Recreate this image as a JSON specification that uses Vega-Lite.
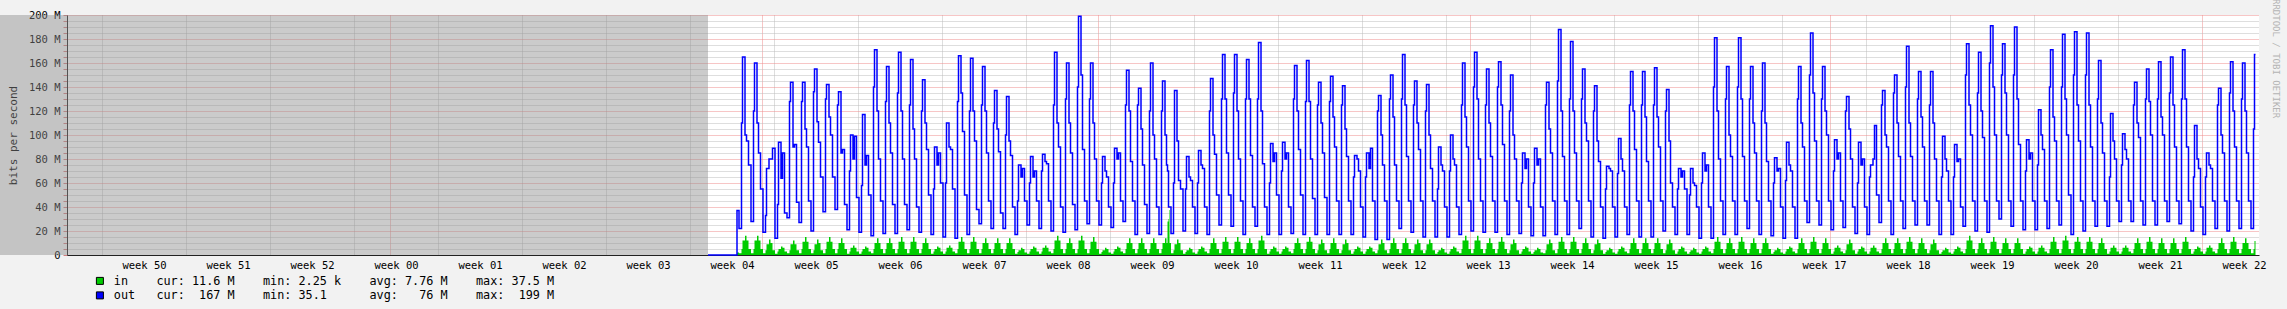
{
"$schema":"https://vega.github.io/schema/vega-lite/v6.json",
"width":2192,"height":240,"autosize":"none",
"padding":{"left":67,"top":15,"right":28,"bottom":54},
"background":"#f2f2f2",
"config":{"view":{"fill":"#ffffff","stroke":null},"font":"DejaVu Sans Mono"},
"title":{"text":"RRDTOOL / TOBI OETIKER","orient":"right","anchor":"start","fontSize":9,"font":"DejaVu Sans Mono","fontWeight":"normal","color":"#b4b4b4","offset":5,"dx":-11},
"data":{"name":"traffic","format":{"parse":{"t":"utc:'%y%m%d%H'"}}},
"datasets":{
"unk":[{"t":"14120502","t2":"15012712"}],
"traffic":[
{"t":"15012712","o":0,"i":0},{"t":"15012922","o":37,"i":2},
{"t":"15013002","o":22,"i":1.5},{"t":"15013007","o":110,"i":5},{"t":"15013009","o":165,"i":12},{"t":"15013014","o":100,"i":16},{"t":"15013017","o":95,"i":12},{"t":"15013021","o":75,"i":5},
{"t":"15013102","o":28,"i":1.5},{"t":"15013107","o":120,"i":5},{"t":"15013109","o":160,"i":12},{"t":"15013114","o":110,"i":16},{"t":"15013117","o":85,"i":12},{"t":"15013121","o":55,"i":5},
{"t":"15020102","o":19,"i":1.5},{"t":"15020107","o":33,"i":4},{"t":"15020109","o":72,"i":9},{"t":"15020114","o":80,"i":13},{"t":"15020117","o":80,"i":10},{"t":"15020121","o":89,"i":4},
{"t":"15020202","o":14,"i":1},{"t":"15020207","o":42,"i":3},{"t":"15020209","o":94,"i":5},{"t":"15020214","o":64,"i":7},{"t":"15020217","o":85,"i":6},{"t":"15020221","o":35,"i":3},
{"t":"15020302","o":31,"i":1.5},{"t":"15020307","o":128,"i":4},{"t":"15020309","o":144,"i":9},{"t":"15020314","o":90,"i":12},{"t":"15020317","o":92,"i":9},{"t":"15020321","o":44,"i":4},
{"t":"15020402","o":27,"i":1.5},{"t":"15020407","o":128,"i":5},{"t":"15020409","o":144,"i":11},{"t":"15020414","o":105,"i":15},{"t":"15020417","o":90,"i":11},{"t":"15020421","o":45,"i":5},
{"t":"15020502","o":20,"i":1.5},{"t":"15020507","o":136,"i":4},{"t":"15020509","o":155,"i":9},{"t":"15020514","o":111,"i":13},{"t":"15020517","o":94,"i":10},{"t":"15020521","o":65,"i":4},
{"t":"15020602","o":36,"i":1.5},{"t":"15020607","o":130,"i":5},{"t":"15020609","o":142,"i":11},{"t":"15020614","o":115,"i":15},{"t":"15020617","o":100,"i":11},{"t":"15020621","o":65,"i":5},
{"t":"15020702","o":38,"i":1.5},{"t":"15020707","o":125,"i":5},{"t":"15020709","o":136,"i":10},{"t":"15020714","o":85,"i":14},{"t":"15020717","o":88,"i":10},{"t":"15020721","o":42,"i":5},
{"t":"15020802","o":21,"i":1},{"t":"15020807","o":70,"i":3},{"t":"15020809","o":100,"i":6},{"t":"15020814","o":80,"i":8},{"t":"15020817","o":99,"i":6},{"t":"15020821","o":48,"i":3},
{"t":"15020902","o":19,"i":1},{"t":"15020907","o":58,"i":3},{"t":"15020909","o":117,"i":5},{"t":"15020914","o":75,"i":7},{"t":"15020917","o":83,"i":6},{"t":"15020921","o":50,"i":3},
{"t":"15021002","o":16,"i":1.5},{"t":"15021007","o":140,"i":5},{"t":"15021009","o":171,"i":10},{"t":"15021014","o":120,"i":14},{"t":"15021017","o":80,"i":10},{"t":"15021021","o":45,"i":5},
{"t":"15021102","o":18,"i":1.5},{"t":"15021107","o":128,"i":5},{"t":"15021109","o":157,"i":10},{"t":"15021114","o":110,"i":14},{"t":"15021117","o":85,"i":10},{"t":"15021121","o":42,"i":5},
{"t":"15021202","o":18,"i":1.5},{"t":"15021207","o":135,"i":5},{"t":"15021209","o":169,"i":11},{"t":"15021214","o":120,"i":15},{"t":"15021217","o":80,"i":11},{"t":"15021221","o":42,"i":5},
{"t":"15021302","o":21,"i":1.5},{"t":"15021307","o":125,"i":5},{"t":"15021309","o":163,"i":11},{"t":"15021314","o":105,"i":15},{"t":"15021317","o":80,"i":11},{"t":"15021321","o":40,"i":5},
{"t":"15021402","o":19,"i":1.5},{"t":"15021407","o":120,"i":5},{"t":"15021409","o":146,"i":10},{"t":"15021414","o":110,"i":14},{"t":"15021417","o":88,"i":10},{"t":"15021421","o":50,"i":5},
{"t":"15021502","o":17,"i":1},{"t":"15021507","o":55,"i":3},{"t":"15021509","o":90,"i":5},{"t":"15021514","o":75,"i":7},{"t":"15021517","o":85,"i":6},{"t":"15021521","o":60,"i":3},
{"t":"15021602","o":15,"i":1},{"t":"15021607","o":60,"i":3},{"t":"15021609","o":110,"i":6},{"t":"15021614","o":90,"i":8},{"t":"15021617","o":88,"i":6},{"t":"15021621","o":55,"i":3},
{"t":"15021702","o":14,"i":1.5},{"t":"15021707","o":128,"i":5},{"t":"15021709","o":166,"i":11},{"t":"15021714","o":135,"i":15},{"t":"15021717","o":103,"i":11},{"t":"15021721","o":50,"i":5},
{"t":"15021802","o":17,"i":1.5},{"t":"15021807","o":120,"i":5},{"t":"15021809","o":164,"i":11},{"t":"15021814","o":120,"i":15},{"t":"15021817","o":95,"i":11},{"t":"15021821","o":38,"i":5},
{"t":"15021902","o":26,"i":1.5},{"t":"15021907","o":125,"i":5},{"t":"15021909","o":157,"i":10},{"t":"15021914","o":120,"i":14},{"t":"15021917","o":85,"i":10},{"t":"15021921","o":45,"i":5},
{"t":"15022002","o":22,"i":1.5},{"t":"15022007","o":110,"i":5},{"t":"15022009","o":137,"i":10},{"t":"15022014","o":105,"i":14},{"t":"15022017","o":86,"i":10},{"t":"15022021","o":35,"i":5},
{"t":"15022102","o":22,"i":1.5},{"t":"15022107","o":100,"i":5},{"t":"15022109","o":132,"i":10},{"t":"15022114","o":95,"i":14},{"t":"15022117","o":83,"i":10},{"t":"15022121","o":40,"i":5},
{"t":"15022202","o":17,"i":1},{"t":"15022207","o":45,"i":2.5},{"t":"15022209","o":75,"i":4},{"t":"15022214","o":65,"i":6},{"t":"15022217","o":72,"i":5},{"t":"15022221","o":45,"i":2},
{"t":"15022302","o":25,"i":1},{"t":"15022307","o":60,"i":3},{"t":"15022309","o":82,"i":5},{"t":"15022314","o":65,"i":7},{"t":"15022317","o":70,"i":6},{"t":"15022321","o":45,"i":3},
{"t":"15022402","o":22,"i":1},{"t":"15022407","o":70,"i":3},{"t":"15022409","o":84,"i":6},{"t":"15022414","o":78,"i":8},{"t":"15022417","o":76,"i":6},{"t":"15022421","o":45,"i":3},
{"t":"15022502","o":20,"i":1.5},{"t":"15022507","o":125,"i":5},{"t":"15022509","o":169,"i":12},{"t":"15022514","o":110,"i":16},{"t":"15022517","o":90,"i":12},{"t":"15022521","o":40,"i":5},
{"t":"15022602","o":19,"i":1.5},{"t":"15022607","o":130,"i":5},{"t":"15022609","o":160,"i":10},{"t":"15022614","o":110,"i":14},{"t":"15022617","o":85,"i":10},{"t":"15022621","o":42,"i":5},
{"t":"15022702","o":21,"i":1.5},{"t":"15022707","o":140,"i":5},{"t":"15022709","o":199,"i":12},{"t":"15022714","o":150,"i":16},{"t":"15022717","o":88,"i":12},{"t":"15022721","o":45,"i":5},
{"t":"15022802","o":26,"i":1.5},{"t":"15022807","o":130,"i":5},{"t":"15022809","o":160,"i":11},{"t":"15022814","o":110,"i":15},{"t":"15022817","o":80,"i":11},{"t":"15022821","o":45,"i":5},
{"t":"15030102","o":25,"i":1},{"t":"15030107","o":60,"i":2.5},{"t":"15030109","o":82,"i":4},{"t":"15030114","o":70,"i":6},{"t":"15030117","o":65,"i":5},{"t":"15030121","o":40,"i":2},
{"t":"15030202","o":23,"i":1},{"t":"15030207","o":60,"i":3},{"t":"15030209","o":89,"i":5},{"t":"15030214","o":80,"i":7},{"t":"15030217","o":85,"i":6},{"t":"15030221","o":45,"i":3},
{"t":"15030302","o":28,"i":1.5},{"t":"15030307","o":125,"i":5},{"t":"15030309","o":154,"i":10},{"t":"15030314","o":120,"i":14},{"t":"15030317","o":78,"i":10},{"t":"15030321","o":45,"i":5},
{"t":"15030402","o":17,"i":1.5},{"t":"15030407","o":125,"i":5},{"t":"15030409","o":139,"i":10},{"t":"15030414","o":105,"i":14},{"t":"15030417","o":75,"i":10},{"t":"15030421","o":42,"i":5},
{"t":"15030502","o":18,"i":1.5},{"t":"15030507","o":120,"i":5},{"t":"15030509","o":160,"i":10},{"t":"15030514","o":100,"i":14},{"t":"15030517","o":80,"i":10},{"t":"15030521","o":40,"i":5},
{"t":"15030602","o":17,"i":1.5},{"t":"15030607","o":120,"i":5},{"t":"15030609","o":145,"i":10},{"t":"15030614","o":100,"i":14},{"t":"15030617","o":75,"i":10},{"t":"15030619","o":70,"i":28},{"t":"15030621","o":40,"i":30},{"t":"15030622","o":40,"i":37.5},{"t":"15030623","o":40,"i":10},
{"t":"15030702","o":18,"i":1.5},{"t":"15030707","o":60,"i":4},{"t":"15030709","o":137,"i":9},{"t":"15030714","o":95,"i":13},{"t":"15030717","o":62,"i":10},{"t":"15030721","o":55,"i":4},
{"t":"15030802","o":20,"i":1},{"t":"15030807","o":55,"i":2.5},{"t":"15030809","o":82,"i":4},{"t":"15030814","o":65,"i":6},{"t":"15030817","o":62,"i":5},{"t":"15030821","o":40,"i":2},
{"t":"15030902","o":18,"i":1},{"t":"15030907","o":60,"i":3},{"t":"15030909","o":87,"i":5},{"t":"15030914","o":75,"i":7},{"t":"15030917","o":72,"i":6},{"t":"15030921","o":40,"i":3},
{"t":"15031002","o":17,"i":1.5},{"t":"15031007","o":120,"i":5},{"t":"15031009","o":147,"i":10},{"t":"15031014","o":100,"i":14},{"t":"15031017","o":84,"i":10},{"t":"15031021","o":50,"i":5},
{"t":"15031102","o":25,"i":1.5},{"t":"15031107","o":130,"i":5},{"t":"15031109","o":167,"i":11},{"t":"15031114","o":130,"i":15},{"t":"15031117","o":85,"i":11},{"t":"15031121","o":50,"i":5},
{"t":"15031202","o":24,"i":1.5},{"t":"15031207","o":135,"i":5},{"t":"15031209","o":167,"i":11},{"t":"15031214","o":120,"i":15},{"t":"15031217","o":80,"i":11},{"t":"15031221","o":45,"i":5},
{"t":"15031302","o":17,"i":1.5},{"t":"15031307","o":130,"i":5},{"t":"15031309","o":163,"i":10},{"t":"15031314","o":130,"i":14},{"t":"15031317","o":83,"i":10},{"t":"15031321","o":40,"i":5},
{"t":"15031402","o":24,"i":1.5},{"t":"15031407","o":130,"i":5},{"t":"15031409","o":177,"i":12},{"t":"15031414","o":120,"i":16},{"t":"15031417","o":76,"i":12},{"t":"15031421","o":40,"i":5},
{"t":"15031502","o":17,"i":1},{"t":"15031507","o":60,"i":3},{"t":"15031509","o":93,"i":5},{"t":"15031514","o":78,"i":7},{"t":"15031517","o":85,"i":6},{"t":"15031521","o":50,"i":3},
{"t":"15031602","o":17,"i":1},{"t":"15031607","o":70,"i":3},{"t":"15031609","o":94,"i":5},{"t":"15031614","o":80,"i":7},{"t":"15031617","o":85,"i":6},{"t":"15031621","o":40,"i":3},
{"t":"15031702","o":18,"i":1.5},{"t":"15031707","o":130,"i":5},{"t":"15031709","o":158,"i":10},{"t":"15031714","o":120,"i":14},{"t":"15031717","o":88,"i":10},{"t":"15031721","o":50,"i":5},
{"t":"15031802","o":17,"i":1.5},{"t":"15031807","o":128,"i":5},{"t":"15031809","o":162,"i":11},{"t":"15031814","o":128,"i":15},{"t":"15031817","o":80,"i":11},{"t":"15031821","o":47,"i":5},
{"t":"15031902","o":17,"i":1.5},{"t":"15031907","o":125,"i":4},{"t":"15031909","o":144,"i":9},{"t":"15031914","o":110,"i":13},{"t":"15031917","o":85,"i":10},{"t":"15031921","o":48,"i":4},
{"t":"15032002","o":17,"i":1.5},{"t":"15032007","o":128,"i":5},{"t":"15032009","o":149,"i":10},{"t":"15032014","o":115,"i":14},{"t":"15032017","o":90,"i":10},{"t":"15032021","o":45,"i":5},
{"t":"15032102","o":17,"i":1.5},{"t":"15032107","o":125,"i":4},{"t":"15032109","o":141,"i":9},{"t":"15032114","o":105,"i":13},{"t":"15032117","o":82,"i":10},{"t":"15032121","o":45,"i":4},
{"t":"15032202","o":17,"i":1},{"t":"15032207","o":65,"i":3},{"t":"15032209","o":83,"i":5},{"t":"15032214","o":80,"i":7},{"t":"15032217","o":70,"i":6},{"t":"15032221","o":40,"i":3},
{"t":"15032302","o":15,"i":1},{"t":"15032307","o":65,"i":3},{"t":"15032309","o":85,"i":5},{"t":"15032314","o":72,"i":7},{"t":"15032317","o":89,"i":6},{"t":"15032321","o":45,"i":3},
{"t":"15032402","o":13,"i":1.5},{"t":"15032407","o":120,"i":4},{"t":"15032409","o":133,"i":9},{"t":"15032414","o":100,"i":13},{"t":"15032417","o":75,"i":10},{"t":"15032421","o":45,"i":4},
{"t":"15032502","o":13,"i":1.5},{"t":"15032507","o":130,"i":5},{"t":"15032509","o":150,"i":10},{"t":"15032514","o":115,"i":14},{"t":"15032517","o":75,"i":10},{"t":"15032521","o":45,"i":5},
{"t":"15032602","o":22,"i":1.5},{"t":"15032607","o":130,"i":5},{"t":"15032609","o":167,"i":10},{"t":"15032614","o":125,"i":14},{"t":"15032617","o":82,"i":10},{"t":"15032621","o":45,"i":5},
{"t":"15032702","o":19,"i":1.5},{"t":"15032707","o":125,"i":4},{"t":"15032709","o":145,"i":9},{"t":"15032714","o":110,"i":13},{"t":"15032717","o":88,"i":10},{"t":"15032721","o":45,"i":4},
{"t":"15032802","o":15,"i":1.5},{"t":"15032807","o":120,"i":4},{"t":"15032809","o":142,"i":9},{"t":"15032814","o":100,"i":13},{"t":"15032817","o":72,"i":10},{"t":"15032821","o":45,"i":4},
{"t":"15032902","o":15,"i":1},{"t":"15032907","o":55,"i":2.5},{"t":"15032909","o":90,"i":4},{"t":"15032914","o":75,"i":6},{"t":"15032917","o":70,"i":5},{"t":"15032921","o":40,"i":2},
{"t":"15033002","o":15,"i":1},{"t":"15033007","o":70,"i":3},{"t":"15033009","o":100,"i":5},{"t":"15033014","o":80,"i":7},{"t":"15033017","o":75,"i":6},{"t":"15033021","o":40,"i":3},
{"t":"15033102","o":17,"i":1.5},{"t":"15033107","o":125,"i":5},{"t":"15033109","o":160,"i":12},{"t":"15033114","o":115,"i":16},{"t":"15033117","o":90,"i":12},{"t":"15033121","o":45,"i":5},
{"t":"15040102","o":20,"i":1.5},{"t":"15040107","o":140,"i":5},{"t":"15040109","o":169,"i":12},{"t":"15040114","o":130,"i":16},{"t":"15040117","o":80,"i":12},{"t":"15040121","o":45,"i":5},
{"t":"15040202","o":19,"i":1.5},{"t":"15040207","o":125,"i":5},{"t":"15040209","o":155,"i":10},{"t":"15040214","o":110,"i":14},{"t":"15040217","o":82,"i":10},{"t":"15040221","o":45,"i":5},
{"t":"15040302","o":19,"i":1.5},{"t":"15040307","o":140,"i":5},{"t":"15040309","o":161,"i":11},{"t":"15040314","o":125,"i":15},{"t":"15040317","o":92,"i":11},{"t":"15040321","o":45,"i":5},
{"t":"15040402","o":17,"i":1.5},{"t":"15040407","o":120,"i":4},{"t":"15040409","o":150,"i":9},{"t":"15040414","o":100,"i":13},{"t":"15040417","o":80,"i":10},{"t":"15040421","o":45,"i":4},
{"t":"15040502","o":18,"i":1},{"t":"15040507","o":60,"i":3},{"t":"15040509","o":85,"i":5},{"t":"15040514","o":72,"i":7},{"t":"15040517","o":80,"i":6},{"t":"15040521","o":40,"i":3},
{"t":"15040602","o":16,"i":1},{"t":"15040607","o":60,"i":2.5},{"t":"15040609","o":89,"i":4},{"t":"15040614","o":75,"i":6},{"t":"15040617","o":80,"i":5},{"t":"15040621","o":40,"i":2},
{"t":"15040702","o":16,"i":1.5},{"t":"15040707","o":125,"i":4},{"t":"15040709","o":144,"i":9},{"t":"15040714","o":105,"i":13},{"t":"15040717","o":85,"i":10},{"t":"15040721","o":45,"i":4},
{"t":"15040802","o":17,"i":1.5},{"t":"15040807","o":145,"i":5},{"t":"15040809","o":188,"i":11},{"t":"15040814","o":120,"i":15},{"t":"15040817","o":82,"i":11},{"t":"15040821","o":45,"i":5},
{"t":"15040902","o":17,"i":1.5},{"t":"15040907","o":130,"i":5},{"t":"15040909","o":178,"i":11},{"t":"15040914","o":120,"i":15},{"t":"15040917","o":85,"i":11},{"t":"15040921","o":45,"i":5},
{"t":"15041002","o":22,"i":1.5},{"t":"15041007","o":130,"i":5},{"t":"15041009","o":155,"i":10},{"t":"15041014","o":110,"i":14},{"t":"15041017","o":95,"i":10},{"t":"15041021","o":45,"i":5},
{"t":"15041102","o":15,"i":1.5},{"t":"15041107","o":120,"i":4},{"t":"15041109","o":141,"i":9},{"t":"15041114","o":95,"i":13},{"t":"15041117","o":78,"i":10},{"t":"15041121","o":40,"i":4},
{"t":"15041202","o":14,"i":1},{"t":"15041207","o":55,"i":2.5},{"t":"15041209","o":74,"i":4},{"t":"15041214","o":72,"i":6},{"t":"15041217","o":70,"i":5},{"t":"15041221","o":40,"i":2},
{"t":"15041302","o":15,"i":1},{"t":"15041307","o":68,"i":3},{"t":"15041309","o":97,"i":5},{"t":"15041314","o":80,"i":7},{"t":"15041317","o":70,"i":6},{"t":"15041321","o":40,"i":3},
{"t":"15041402","o":17,"i":1.5},{"t":"15041407","o":125,"i":5},{"t":"15041409","o":153,"i":10},{"t":"15041414","o":120,"i":14},{"t":"15041417","o":88,"i":10},{"t":"15041421","o":45,"i":5},
{"t":"15041502","o":15,"i":1.5},{"t":"15041507","o":125,"i":5},{"t":"15041509","o":153,"i":10},{"t":"15041514","o":115,"i":14},{"t":"15041517","o":78,"i":10},{"t":"15041521","o":45,"i":5},
{"t":"15041602","o":15,"i":1.5},{"t":"15041607","o":125,"i":5},{"t":"15041609","o":156,"i":10},{"t":"15041614","o":115,"i":14},{"t":"15041617","o":90,"i":10},{"t":"15041621","o":45,"i":5},
{"t":"15041702","o":20,"i":1.5},{"t":"15041707","o":120,"i":4},{"t":"15041709","o":138,"i":9},{"t":"15041714","o":95,"i":13},{"t":"15041717","o":60,"i":10},{"t":"15041721","o":40,"i":4},
{"t":"15041802","o":17,"i":1},{"t":"15041807","o":55,"i":3},{"t":"15041809","o":72,"i":5},{"t":"15041814","o":65,"i":7},{"t":"15041817","o":70,"i":6},{"t":"15041821","o":55,"i":3},
{"t":"15041902","o":17,"i":1},{"t":"15041907","o":50,"i":2.5},{"t":"15041909","o":72,"i":4},{"t":"15041914","o":60,"i":6},{"t":"15041917","o":58,"i":5},{"t":"15041921","o":40,"i":2},
{"t":"15042002","o":14,"i":1},{"t":"15042007","o":60,"i":3},{"t":"15042009","o":85,"i":5},{"t":"15042014","o":70,"i":7},{"t":"15042017","o":75,"i":6},{"t":"15042021","o":40,"i":3},
{"t":"15042102","o":14,"i":1.5},{"t":"15042107","o":140,"i":5},{"t":"15042109","o":181,"i":11},{"t":"15042114","o":120,"i":15},{"t":"15042117","o":80,"i":11},{"t":"15042121","o":45,"i":5},
{"t":"15042202","o":17,"i":1.5},{"t":"15042207","o":130,"i":5},{"t":"15042209","o":157,"i":10},{"t":"15042214","o":100,"i":14},{"t":"15042217","o":82,"i":10},{"t":"15042221","o":45,"i":5},
{"t":"15042302","o":17,"i":1.5},{"t":"15042307","o":140,"i":5},{"t":"15042309","o":181,"i":11},{"t":"15042314","o":130,"i":15},{"t":"15042317","o":82,"i":11},{"t":"15042321","o":45,"i":5},
{"t":"15042402","o":22,"i":1.5},{"t":"15042407","o":130,"i":5},{"t":"15042409","o":157,"i":10},{"t":"15042414","o":110,"i":14},{"t":"15042417","o":85,"i":10},{"t":"15042421","o":45,"i":5},
{"t":"15042502","o":17,"i":1.5},{"t":"15042507","o":120,"i":5},{"t":"15042509","o":160,"i":10},{"t":"15042514","o":110,"i":14},{"t":"15042517","o":78,"i":10},{"t":"15042521","o":45,"i":5},
{"t":"15042602","o":16,"i":1},{"t":"15042607","o":60,"i":2.5},{"t":"15042609","o":81,"i":4},{"t":"15042614","o":70,"i":6},{"t":"15042617","o":72,"i":5},{"t":"15042621","o":40,"i":2},
{"t":"15042702","o":14,"i":1},{"t":"15042707","o":62,"i":3},{"t":"15042709","o":94,"i":5},{"t":"15042714","o":75,"i":7},{"t":"15042717","o":70,"i":6},{"t":"15042721","o":40,"i":3},
{"t":"15042802","o":14,"i":1.5},{"t":"15042807","o":130,"i":5},{"t":"15042809","o":157,"i":10},{"t":"15042814","o":110,"i":14},{"t":"15042817","o":90,"i":10},{"t":"15042821","o":45,"i":5},
{"t":"15042902","o":27,"i":1.5},{"t":"15042907","o":150,"i":5},{"t":"15042909","o":185,"i":11},{"t":"15042914","o":135,"i":15},{"t":"15042917","o":95,"i":11},{"t":"15042921","o":45,"i":5},
{"t":"15043002","o":25,"i":1.5},{"t":"15043007","o":130,"i":5},{"t":"15043009","o":157,"i":10},{"t":"15043014","o":120,"i":14},{"t":"15043017","o":100,"i":10},{"t":"15043021","o":45,"i":5},
{"t":"15050102","o":21,"i":1},{"t":"15050107","o":70,"i":3},{"t":"15050109","o":96,"i":6},{"t":"15050114","o":80,"i":8},{"t":"15050117","o":85,"i":6},{"t":"15050121","o":45,"i":3},
{"t":"15050202","o":23,"i":1.5},{"t":"15050207","o":120,"i":4},{"t":"15050209","o":132,"i":9},{"t":"15050214","o":105,"i":13},{"t":"15050217","o":80,"i":10},{"t":"15050221","o":40,"i":4},
{"t":"15050302","o":18,"i":1},{"t":"15050307","o":60,"i":3},{"t":"15050309","o":94,"i":5},{"t":"15050314","o":75,"i":7},{"t":"15050317","o":80,"i":6},{"t":"15050321","o":40,"i":3},
{"t":"15050402","o":17,"i":1},{"t":"15050407","o":65,"i":3},{"t":"15050409","o":75,"i":6},{"t":"15050414","o":80,"i":8},{"t":"15050417","o":108,"i":6},{"t":"15050421","o":50,"i":3},
{"t":"15050502","o":27,"i":1.5},{"t":"15050507","o":125,"i":5},{"t":"15050509","o":137,"i":10},{"t":"15050514","o":100,"i":14},{"t":"15050517","o":90,"i":10},{"t":"15050521","o":45,"i":5},
{"t":"15050602","o":17,"i":1.5},{"t":"15050607","o":135,"i":5},{"t":"15050609","o":150,"i":10},{"t":"15050614","o":110,"i":14},{"t":"15050617","o":82,"i":10},{"t":"15050621","o":45,"i":5},
{"t":"15050702","o":22,"i":1.5},{"t":"15050707","o":140,"i":5},{"t":"15050709","o":174,"i":11},{"t":"15050714","o":110,"i":15},{"t":"15050717","o":82,"i":11},{"t":"15050721","o":45,"i":5},
{"t":"15050802","o":25,"i":1.5},{"t":"15050807","o":130,"i":5},{"t":"15050809","o":153,"i":10},{"t":"15050814","o":115,"i":14},{"t":"15050817","o":90,"i":10},{"t":"15050821","o":45,"i":5},
{"t":"15050902","o":25,"i":1.5},{"t":"15050907","o":125,"i":4},{"t":"15050909","o":153,"i":9},{"t":"15050914","o":110,"i":13},{"t":"15050917","o":80,"i":10},{"t":"15050921","o":45,"i":4},
{"t":"15051002","o":17,"i":1},{"t":"15051007","o":65,"i":2.5},{"t":"15051009","o":99,"i":4},{"t":"15051014","o":80,"i":6},{"t":"15051017","o":70,"i":5},{"t":"15051021","o":45,"i":2},
{"t":"15051102","o":17,"i":1},{"t":"15051107","o":65,"i":3},{"t":"15051109","o":92,"i":5},{"t":"15051114","o":78,"i":7},{"t":"15051117","o":80,"i":6},{"t":"15051121","o":40,"i":3},
{"t":"15051202","o":24,"i":1.5},{"t":"15051207","o":150,"i":5},{"t":"15051209","o":176,"i":12},{"t":"15051214","o":125,"i":16},{"t":"15051217","o":100,"i":12},{"t":"15051221","o":45,"i":5},
{"t":"15051302","o":20,"i":1.5},{"t":"15051307","o":135,"i":5},{"t":"15051309","o":169,"i":10},{"t":"15051314","o":120,"i":14},{"t":"15051317","o":98,"i":10},{"t":"15051321","o":45,"i":5},
{"t":"15051402","o":19,"i":1.5},{"t":"15051407","o":160,"i":5},{"t":"15051409","o":191,"i":11},{"t":"15051414","o":140,"i":15},{"t":"15051417","o":100,"i":11},{"t":"15051421","o":45,"i":5},
{"t":"15051502","o":30,"i":1.5},{"t":"15051507","o":150,"i":5},{"t":"15051509","o":176,"i":10},{"t":"15051514","o":135,"i":14},{"t":"15051517","o":100,"i":10},{"t":"15051521","o":45,"i":5},
{"t":"15051602","o":24,"i":1.5},{"t":"15051607","o":150,"i":5},{"t":"15051609","o":190,"i":10},{"t":"15051614","o":130,"i":14},{"t":"15051617","o":92,"i":10},{"t":"15051621","o":45,"i":5},
{"t":"15051702","o":21,"i":1},{"t":"15051707","o":70,"i":3},{"t":"15051709","o":96,"i":5},{"t":"15051714","o":80,"i":7},{"t":"15051717","o":85,"i":6},{"t":"15051721","o":45,"i":3},
{"t":"15051802","o":21,"i":1},{"t":"15051807","o":75,"i":3},{"t":"15051809","o":121,"i":6},{"t":"15051814","o":100,"i":8},{"t":"15051817","o":88,"i":6},{"t":"15051821","o":45,"i":3},
{"t":"15051902","o":22,"i":1.5},{"t":"15051907","o":140,"i":5},{"t":"15051909","o":171,"i":11},{"t":"15051914","o":115,"i":15},{"t":"15051917","o":95,"i":11},{"t":"15051921","o":45,"i":5},
{"t":"15052002","o":25,"i":1.5},{"t":"15052007","o":140,"i":5},{"t":"15052009","o":184,"i":12},{"t":"15052014","o":130,"i":16},{"t":"15052017","o":100,"i":12},{"t":"15052021","o":50,"i":5},
{"t":"15052102","o":17,"i":1.5},{"t":"15052107","o":150,"i":5},{"t":"15052109","o":186,"i":11},{"t":"15052114","o":125,"i":15},{"t":"15052117","o":95,"i":11},{"t":"15052121","o":45,"i":5},
{"t":"15052202","o":20,"i":1.5},{"t":"15052207","o":150,"i":5},{"t":"15052209","o":185,"i":11},{"t":"15052214","o":125,"i":15},{"t":"15052217","o":90,"i":11},{"t":"15052221","o":45,"i":5},
{"t":"15052302","o":24,"i":1.5},{"t":"15052307","o":130,"i":5},{"t":"15052309","o":162,"i":10},{"t":"15052314","o":110,"i":14},{"t":"15052317","o":85,"i":10},{"t":"15052321","o":45,"i":5},
{"t":"15052402","o":24,"i":1},{"t":"15052407","o":65,"i":3},{"t":"15052409","o":118,"i":6},{"t":"15052414","o":95,"i":8},{"t":"15052417","o":80,"i":6},{"t":"15052421","o":45,"i":3},
{"t":"15052502","o":28,"i":1},{"t":"15052507","o":75,"i":3},{"t":"15052509","o":101,"i":6},{"t":"15052514","o":88,"i":8},{"t":"15052517","o":80,"i":6},{"t":"15052521","o":45,"i":3},
{"t":"15052602","o":28,"i":1.5},{"t":"15052607","o":125,"i":5},{"t":"15052609","o":144,"i":10},{"t":"15052614","o":110,"i":14},{"t":"15052617","o":98,"i":10},{"t":"15052621","o":45,"i":5},
{"t":"15052702","o":25,"i":1.5},{"t":"15052707","o":130,"i":5},{"t":"15052709","o":155,"i":11},{"t":"15052714","o":128,"i":15},{"t":"15052717","o":100,"i":11},{"t":"15052721","o":45,"i":5},
{"t":"15052802","o":25,"i":1.5},{"t":"15052807","o":130,"i":5},{"t":"15052809","o":161,"i":10},{"t":"15052814","o":115,"i":14},{"t":"15052817","o":100,"i":10},{"t":"15052821","o":45,"i":5},
{"t":"15052902","o":28,"i":1.5},{"t":"15052907","o":135,"i":5},{"t":"15052909","o":165,"i":10},{"t":"15052914","o":125,"i":14},{"t":"15052917","o":90,"i":10},{"t":"15052921","o":45,"i":5},
{"t":"15053002","o":26,"i":1.5},{"t":"15053007","o":130,"i":5},{"t":"15053009","o":171,"i":11},{"t":"15053014","o":130,"i":15},{"t":"15053017","o":90,"i":11},{"t":"15053021","o":45,"i":5},
{"t":"15053102","o":20,"i":1},{"t":"15053107","o":65,"i":3},{"t":"15053109","o":108,"i":5},{"t":"15053114","o":80,"i":7},{"t":"15053117","o":72,"i":6},{"t":"15053121","o":40,"i":3},
{"t":"15060102","o":17,"i":1},{"t":"15060107","o":65,"i":3},{"t":"15060109","o":85,"i":6},{"t":"15060114","o":75,"i":8},{"t":"15060117","o":72,"i":6},{"t":"15060121","o":45,"i":3},
{"t":"15060202","o":22,"i":1.5},{"t":"15060207","o":125,"i":5},{"t":"15060209","o":139,"i":10},{"t":"15060214","o":100,"i":14},{"t":"15060217","o":85,"i":10},{"t":"15060221","o":45,"i":5},
{"t":"15060302","o":20,"i":1.5},{"t":"15060307","o":135,"i":5},{"t":"15060309","o":161,"i":11},{"t":"15060314","o":120,"i":15},{"t":"15060317","o":90,"i":11},{"t":"15060321","o":45,"i":5},
{"t":"15060402","o":22,"i":1.5},{"t":"15060407","o":130,"i":5},{"t":"15060409","o":160,"i":10},{"t":"15060414","o":120,"i":14},{"t":"15060417","o":85,"i":10},{"t":"15060421","o":45,"i":5},
{"t":"15060502","o":22,"i":1.5},{"t":"15060507","o":105,"i":5},{"t":"15060509","o":167,"i":11.6},{"t":"15060511","o":167,"i":11.6}
]},
"encoding":{
"x":{"field":"t","type":"temporal","title":null,
"scale":{"type":"utc","domain":[1417744800000,1433527200000]},
"axis":{"values":[1417996800000,1418601600000,1419206400000,1419811200000,1420070400000,1420416000000,1421020800000,1421625600000,1422230400000,1422748800000,1422835200000,1423440000000,1424044800000,1424649600000,1425168000000,1425254400000,1425859200000,1426464000000,1427068800000,1427673600000,1427846400000,1428278400000,1428883200000,1429488000000,1430092800000,1430438400000,1430697600000,1431302400000,1431907200000,1432512000000,1433116800000],
"labelExpr":"utcday(datum.value) === 1 ? 'week ' + ((round((datum.value - 1417996800000) / 604800000) + 50) % 53 < 10 ? '0' : '') + toString((round((datum.value - 1417996800000) / 604800000) + 50) % 53) : ''",
"labelOffset":42,"labelFlush":false,"labelOverlap":false,"labelBound":false,
"labelFont":"DejaVu Sans Mono","labelFontSize":10.5,"labelColor":"#000000","labelPadding":5,
"ticks":false,"domainColor":"#222222","domainWidth":1,
"grid":true,"gridDash":[1,1],"gridWidth":1,
"gridColor":{"condition":{"test":"utcdate(datum.value) === 1","value":"#ee8c8c"},"value":"#bdbdbd"}}}
},
"layer":[
{"data":{"name":"unk","format":{"parse":{"t":"utc:'%y%m%d%H'","t2":"utc:'%y%m%d%H'"}}},
 "mark":{"type":"rect","color":"#8c8c8c","opacity":0.45},
 "encoding":{"x2":{"field":"t2"}}},
{"mark":{"type":"area","interpolate":"step-after","color":"#00cc00"},
 "encoding":{
  "y":{"field":"i","type":"quantitative","scale":{"domain":[0,200]},
   "axis":{"title":"bits per second","titleFont":"DejaVu Sans Mono","titleFontSize":11,"titleFontWeight":"normal","titleColor":"#000000","titlePadding":10,
    "values":[0,5,10,15,20,25,30,35,40,45,50,55,60,65,70,75,80,85,90,95,100,105,110,115,120,125,130,135,140,145,150,155,160,165,170,175,180,185,190,195,200],
    "labelExpr":"datum.value % 20 === 0 ? (datum.value === 0 ? '0' : datum.value + ' M') : ''",
    "labelFont":"DejaVu Sans Mono","labelFontSize":10.5,"labelColor":"#000000","labelPadding":3,"labelFlush":false,"labelOverlap":false,
    "domainColor":"#222222","tickSize":4,"tickColor":"#d08080",
    "grid":true,"gridDash":[1,1],
    "gridColor":{"condition":{"test":"datum.value % 20 === 0","value":"#ee8c8c"},"value":"#bdbdbd"}}},
  "color":{"datum":"in","type":"nominal","scale":{"domain":["in","out"],"range":["#00cc00","#0000ff"]},
   "legend":{"orient":"none","legendX":27,"legendY":260,"title":null,"direction":"vertical",
    "symbolType":"square","symbolSize":49,"symbolStrokeColor":"#000000","symbolStrokeWidth":1,"symbolOpacity":1,
    "labelFont":"DejaVu Sans Mono","labelFontSize":11.8,"labelColor":"#000000","labelOffset":8,"rowPadding":1.5,"labelLimit":1000,
    "labelExpr":"datum.label === 'in' ? 'in\u00a0\u00a0\u00a0\u00a0cur:\u00a011.6\u00a0M\u00a0\u00a0\u00a0\u00a0min:\u00a02.25\u00a0k\u00a0\u00a0\u00a0\u00a0avg:\u00a07.76\u00a0M\u00a0\u00a0\u00a0\u00a0max:\u00a037.5\u00a0M' : 'out\u00a0\u00a0\u00a0cur:\u00a0\u00a0167\u00a0M\u00a0\u00a0\u00a0\u00a0min:\u00a035.1\u00a0\u00a0\u00a0\u00a0\u00a0\u00a0avg:\u00a0\u00a0\u00a076\u00a0M\u00a0\u00a0\u00a0\u00a0max:\u00a0\u00a0199\u00a0M'",
    "encode":{"symbols":{"update":{"fill":{"scale":"color","field":"value"},"stroke":{"value":"#000000"},"strokeWidth":{"value":1},"opacity":{"value":1}}}}}}
 }},
{"mark":{"type":"line","interpolate":"step-after","color":"#0000ff","strokeWidth":1.5},
 "encoding":{"y":{"field":"o","type":"quantitative","scale":{"domain":[0,200]},
   "axis":{"title":"bits per second","titleFont":"DejaVu Sans Mono","titleFontSize":11,"titleFontWeight":"normal","titleColor":"#000000","titlePadding":10,
    "values":[0,5,10,15,20,25,30,35,40,45,50,55,60,65,70,75,80,85,90,95,100,105,110,115,120,125,130,135,140,145,150,155,160,165,170,175,180,185,190,195,200],
    "labelExpr":"datum.value % 20 === 0 ? (datum.value === 0 ? '0' : datum.value + ' M') : ''",
    "labelFont":"DejaVu Sans Mono","labelFontSize":10.5,"labelColor":"#000000","labelPadding":3,"labelFlush":false,"labelOverlap":false,
    "domainColor":"#222222","tickSize":4,"tickColor":"#d08080",
    "grid":true,"gridDash":[1,1],
    "gridColor":{"condition":{"test":"datum.value % 20 === 0","value":"#ee8c8c"},"value":"#bdbdbd"}}}}}
]
}
